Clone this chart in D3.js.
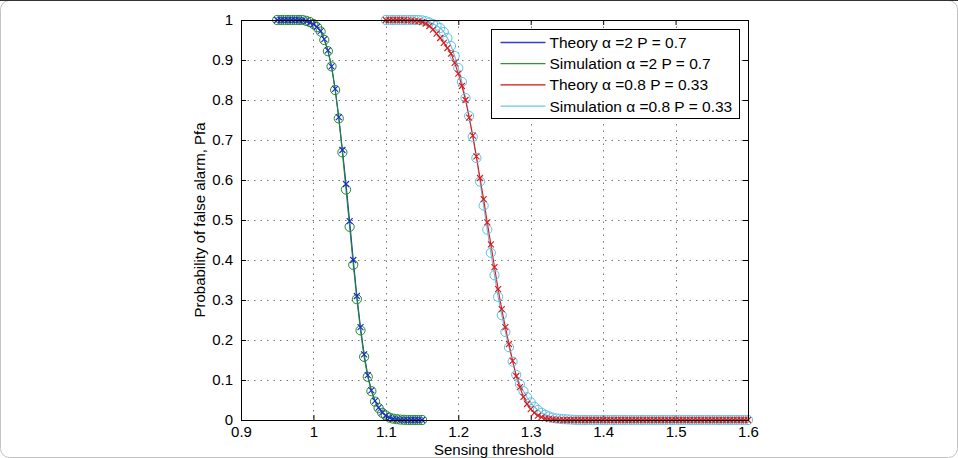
<!DOCTYPE html>
<html>
<head>
<meta charset="utf-8">
<script src="https://cdn.jsdelivr.net/npm/d3@7"></script>
<style>
  body { margin: 0; background: #fff; }
  svg { display: block; font-family: "Liberation Sans", Arial, sans-serif; }
</style>
</head>
<body>
<div id="chart"></div>
<script>
// thresholds for the alpha = 2 curves
const xLeft = [0.950, 0.955, 0.960, 0.965, 0.970, 0.975, 0.980, 0.985, 0.990, 0.995,
  1.000, 1.005, 1.010, 1.015, 1.020, 1.025, 1.030, 1.035, 1.040, 1.045,
  1.050, 1.055, 1.060, 1.065, 1.070, 1.075, 1.080, 1.085, 1.090, 1.095,
  1.100, 1.105, 1.110, 1.115, 1.120, 1.125, 1.130, 1.135, 1.140, 1.145, 1.150];

const theoryLeft = [1, 1, 1, 1, 1, 1, 1, 0.999, 0.997, 0.993,
  0.989, 0.983, 0.972, 0.952, 0.924, 0.884, 0.828, 0.757, 0.675, 0.590,
  0.497, 0.400, 0.310, 0.232, 0.164, 0.112, 0.074, 0.048, 0.031, 0.019,
  0.011, 0.006, 0.003, 0.0015, 0.0007, 0.0003, 0, 0, 0, 0, 0];

const simLeft = [1, 1, 1, 1, 1, 1, 1, 1, 0.998, 0.995,
  0.990, 0.982, 0.971, 0.950, 0.922, 0.884, 0.825, 0.754, 0.669, 0.576,
  0.483, 0.388, 0.302, 0.224, 0.158, 0.108, 0.072, 0.046, 0.030, 0.018,
  0.011, 0.006, 0.0035, 0.002, 0.001, 0.0005, 0, 0, 0, 0, 0];

// thresholds for the alpha = 0.8 curves
const xRight = [1.100, 1.105, 1.110, 1.115, 1.120, 1.125, 1.130, 1.135, 1.140, 1.145,
  1.150, 1.155, 1.160, 1.165, 1.170, 1.175, 1.180, 1.185, 1.190, 1.195,
  1.200, 1.205, 1.210, 1.215, 1.220, 1.225, 1.230, 1.235, 1.240, 1.245,
  1.250, 1.255, 1.260, 1.265, 1.270, 1.275, 1.280, 1.285, 1.290, 1.295,
  1.300, 1.305, 1.310, 1.315, 1.320, 1.325, 1.330, 1.335, 1.340, 1.345,
  1.350, 1.355, 1.360, 1.365, 1.370, 1.375, 1.380, 1.385, 1.390, 1.395,
  1.400, 1.405, 1.410, 1.415, 1.420, 1.425, 1.430, 1.435, 1.440, 1.445,
  1.450, 1.455, 1.460, 1.465, 1.470, 1.475, 1.480, 1.485, 1.490, 1.495,
  1.500, 1.505, 1.510, 1.515, 1.520, 1.525, 1.530, 1.535, 1.540, 1.545,
  1.550, 1.555, 1.560, 1.565, 1.570, 1.575, 1.580, 1.585, 1.590, 1.595, 1.600];

const theoryRight = [1, 1, 1, 1, 1, 1, 0.999, 0.999, 0.998, 0.997,
  0.995, 0.991, 0.985, 0.976, 0.966, 0.955, 0.943, 0.930, 0.916, 0.893,
  0.866, 0.835, 0.800, 0.756, 0.711, 0.659, 0.605, 0.552, 0.494, 0.439,
  0.382, 0.327, 0.277, 0.232, 0.190, 0.148, 0.110, 0.082, 0.058, 0.040,
  0.027, 0.018, 0.011, 0.007, 0.004, 0.0025, 0.0015, 0.001, 0.0005, 0,
  0, 0, 0, 0, 0, 0, 0, 0, 0, 0,
  0, 0, 0, 0, 0, 0, 0, 0, 0, 0,
  0, 0, 0, 0, 0, 0, 0, 0, 0, 0,
  0, 0, 0, 0, 0, 0, 0, 0, 0, 0,
  0, 0, 0, 0, 0, 0, 0, 0, 0, 0, 0];

const simRight = [1, 1, 1, 1, 1, 1, 1, 1, 1, 1,
  0.999, 0.997, 0.994, 0.990, 0.986, 0.980, 0.970, 0.955, 0.935, 0.910,
  0.880, 0.845, 0.805, 0.760, 0.708, 0.655, 0.596, 0.536, 0.476, 0.418,
  0.362, 0.308, 0.262, 0.220, 0.182, 0.146, 0.113, 0.090, 0.072, 0.057,
  0.044, 0.033, 0.025, 0.018, 0.013, 0.009, 0.006, 0.004, 0.003, 0.002,
  0.0015, 0.001, 0.0005, 0, 0, 0, 0, 0, 0, 0,
  0, 0, 0, 0, 0, 0, 0, 0, 0, 0,
  0, 0, 0, 0, 0, 0, 0, 0, 0, 0,
  0, 0, 0, 0, 0, 0, 0, 0, 0, 0,
  0, 0, 0, 0, 0, 0, 0, 0, 0, 0, 0];

const xTicks = [0.9, 1, 1.1, 1.2, 1.3, 1.4, 1.5, 1.6];
const yTicks = [0, 0.1, 0.2, 0.3, 0.4, 0.5, 0.6, 0.7, 0.8, 0.9, 1];
const legendLabels = ["Theory \u03b1 =2 P = 0.7", "Simulation \u03b1 =2 P = 0.7",
  "Theory \u03b1 =0.8 P = 0.33", "Simulation \u03b1 =0.8 P = 0.33"];

const width = 958;
const height = 458;
const plot = { left: 241, right: 748, top: 20, bottom: 420 };
const fontSize = 15;

const svg = d3.select("#chart")
    .append("svg")
    .attr("width", width)
    .attr("height", height);

// figure frame
svg.append("rect")
    .attr("x", 0.5).attr("y", 0.5)
    .attr("width", width - 1).attr("height", height - 1)
    .attr("rx", 9)
    .attr("fill", "#fff")
    .attr("stroke", "#c4c4c4");
svg.append("line")
    .attr("x1", 0).attr("x2", width).attr("y1", 0.5).attr("y2", 0.5)
    .attr("stroke", "#333");

const xScale = d3.scaleLinear().domain([0.9, 1.6]).range([plot.left, plot.right]);
const yScale = d3.scaleLinear().domain([0, 1]).range([plot.bottom, plot.top]);

// dotted grid
const grid = svg.append("g")
    .attr("stroke", "#777")
    .attr("stroke-width", 1)
    .attr("stroke-dasharray", "1.5,5");
grid.selectAll(".vgrid")
    .data(xTicks.slice(1, -1))
    .enter()
    .append("line")
    .attr("x1", d => Math.round(xScale(d)) + 0.5)
    .attr("x2", d => Math.round(xScale(d)) + 0.5)
    .attr("y1", plot.top)
    .attr("y2", plot.bottom);
grid.selectAll(".hgrid")
    .data(yTicks.slice(1, -1))
    .enter()
    .append("line")
    .attr("y1", d => Math.round(yScale(d)) + 0.5)
    .attr("y2", d => Math.round(yScale(d)) + 0.5)
    .attr("x1", plot.left)
    .attr("x2", plot.right);

// axes, ticks pointing inward
const fmt = d => d3.format("")(+d.toFixed(1));
const axisStyle = g => {
    g.select(".domain").remove();
    g.selectAll(".tick line").attr("stroke", "#000");
    g.selectAll(".tick text")
        .attr("fill", "#000")
        .attr("font-size", fontSize)
        .attr("font-family", "Liberation Sans, Arial, sans-serif");
};

svg.append("g")
    .attr("transform", `translate(0,${plot.bottom})`)
    .call(d3.axisBottom(xScale).tickValues(xTicks).tickFormat(fmt).tickSize(-5).tickPadding(6))
    .call(axisStyle);
svg.append("g")
    .attr("transform", `translate(0,${plot.top})`)
    .call(d3.axisTop(xScale).tickValues(xTicks).tickFormat("").tickSize(-5))
    .call(axisStyle);
svg.append("g")
    .attr("transform", `translate(${plot.left},0)`)
    .call(d3.axisLeft(yScale).tickValues(yTicks).tickFormat(fmt).tickSize(-5).tickPadding(8))
    .call(axisStyle);
svg.append("g")
    .attr("transform", `translate(${plot.right},0)`)
    .call(d3.axisRight(yScale).tickValues(yTicks).tickFormat("").tickSize(-5))
    .call(axisStyle);

// curves
const line = d3.line()
    .x(d => xScale(d[0]))
    .y(d => yScale(d[1]));

const series = [
    { xs: xLeft, ys: theoryLeft, color: "#1a2ad0", marker: "cross" },
    { xs: xLeft, ys: simLeft, color: "#1f8a2a", marker: "circle" },
    { xs: xRight, ys: theoryRight, color: "#e01818", marker: "cross" },
    { xs: xRight, ys: simRight, color: "#5ec0e4", marker: "circle" }
];

const plotArea = svg.append("g");

// lines first (red drawn over cyan), then markers on top
[series[0], series[1], series[3], series[2]].forEach(s => {
    const pts = s.xs.map((x, i) => [x, s.ys[i]]);
    plotArea.append("path")
        .datum(pts)
        .attr("d", line)
        .attr("fill", "none")
        .attr("stroke", s.color)
        .attr("stroke-width", 1.1);
});

[series[1], series[0], series[3], series[2]].forEach(s => {
    const pts = s.xs.map((x, i) => [x, s.ys[i]]);
    if (s.marker === "circle") {
        plotArea.selectAll(null)
            .data(pts)
            .enter()
            .append("circle")
            .attr("cx", d => xScale(d[0]))
            .attr("cy", d => yScale(d[1]))
            .attr("r", 4.6)
            .attr("fill", "none")
            .attr("stroke", s.color)
            .attr("stroke-width", 1);
    } else {
        plotArea.selectAll(null)
            .data(pts)
            .enter()
            .append("path")
            .attr("transform", d => `translate(${xScale(d[0])},${yScale(d[1])})`)
            .attr("d", "M-3,-3L3,3M-3,3L3,-3")
            .attr("fill", "none")
            .attr("stroke", s.color)
            .attr("stroke-width", 1.1);
    }
});

// axes box
svg.append("rect")
    .attr("x", plot.left + 0.5)
    .attr("y", plot.top + 0.5)
    .attr("width", plot.right - plot.left)
    .attr("height", plot.bottom - plot.top)
    .attr("fill", "none")
    .attr("stroke", "#000")
    .attr("stroke-width", 1);

// axis labels
svg.append("text")
    .attr("x", 494)
    .attr("y", 454.5)
    .attr("text-anchor", "middle")
    .attr("font-size", fontSize)
    .text("Sensing threshold");

svg.append("text")
    .attr("transform", `translate(205,220) rotate(-90)`)
    .attr("text-anchor", "middle")
    .attr("font-size", fontSize)
    .text("Probability of false alarm, Pfa");

// legend
const legendColors = ["#3a3ad0", "#2a9a2a", "#d01010", "#66cddd"];
const legend = svg.append("g").attr("transform", "translate(491.5,29.5)");
legend.append("rect")
    .attr("width", 248)
    .attr("height", 89)
    .attr("fill", "#fff")
    .attr("stroke", "#000");
legend.selectAll(".item")
    .data(legendLabels)
    .enter()
    .append("g")
    .attr("transform", (d, i) => `translate(0,${13 + i * 21.2})`)
    .each(function(d, i) {
        const g = d3.select(this);
        g.append("line")
            .attr("x1", 9).attr("x2", 54)
            .attr("y1", 0).attr("y2", 0)
            .attr("stroke", legendColors[i])
            .attr("stroke-width", 1.3);
        g.append("text")
            .attr("x", 58)
            .attr("dy", "0.36em")
            .attr("font-size", 15.5)
            .text(d);
    });
</script>
</body>
</html>
